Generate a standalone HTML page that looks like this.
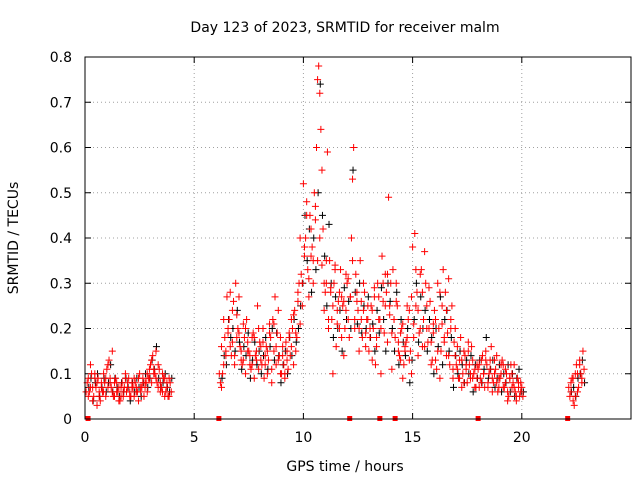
<!DOCTYPE html>
<html><head><meta charset="utf-8"><style>
body{margin:0;background:#fff}
svg{display:block;font-family:"DejaVu Sans","Liberation Sans",sans-serif}
</style></head><body>
<svg id="chart" width="640" height="480" viewBox="0 0 640 480">
<rect width="640" height="480" fill="#fff"/>
<text x="345" y="32" font-size="14" text-anchor="middle">Day 123 of 2023, SRMTID for receiver malm</text>
<text x="345" y="471" font-size="14" text-anchor="middle">GPS time / hours</text>
<text transform="translate(18,238) rotate(-90)" font-size="14" text-anchor="middle">SRMTID / TECUs</text>
<g id="grid"></g>
<g id="axes"></g>
<g id="black"></g>
<g id="red"></g>
<g id="gaps"></g>
<rect x="85" y="57" width="546" height="362" fill="none" stroke="#000"/>
</svg>
<script>
const xTicks=[0,5,10,15,20];
const yTicks=[0,0.1,0.2,0.3,0.4,0.5,0.6,0.7,0.8];
const yTickLabels=["0","0.1","0.2","0.3","0.4","0.5","0.6","0.7","0.8"];
const segStart=[0.1,6.2,9.9,22.2];
const segEnd=[3.9,9.8,20.0,22.8];
const gapTimes=[0.14,6.13,12.12,13.5,14.2,18.0,22.1];
const red1=[.08,.06,.10,.05,.07,.09,.04,.06,.08,.11,.13,.07,.05,.09,.06,.04,.08,.07,.06,.09,.05,.07,.08,.06,.10,.07,.05,.08,.09,.12,.14,.10,.08,.11,.07,.09,.06,.05,.08,
.08,.10,.18,.27,.22,.14,.26,.30,.20,.16,.12,.18,.22,.15,.11,.19,.14,.25,.17,.12,.09,.16,.13,.18,.22,.27,.19,.14,.10,.12,.17,.11,.14,.20,.24,.18,.30,
.32,.52,.40,.33,.45,.38,.50,.60,.78,.64,.42,
.28,.59,.35,.22,.30,.16,.26,.33,.25,.20,
.30,.18,.40,.60,.32,.24,.35,.18,.28,.22,
.15,.25,.20,.12,.30,.22,.36,.19,.28,.49,
.30,.33,.18,.25,.14,.20,.12,.17,.22,.15,
.38,.41,.28,.19,.33,.22,.30,.17,.26,.13,
.24,.11,.20,.15,.33,.28,.19,.12,.25,.17,
.12,.09,.18,.10,.14,.08,.12,.16,.10,.07,
.11,.09,.14,.07,.12,.10,.16,.08,.11,.06,
.09,.13,.07,.10,.05,.12,.08,.06,.09,.05,
.07,
.05,.09,.03,.12,.07,.10,.15];
const red2=[.05,.12,.07,.09,.03,.06,.08,.10,.05,.07,.09,.15,.08,.06,.04,.07,.05,.10,.08,.05,.07,.09,.06,.04,.07,.09,.08,.06,.11,.08,.10,.15,.12,.06,.10,.05,.08,.09,.06,
.07,.12,.14,.20,.16,.24,.12,.18,.27,.13,.21,.10,.15,.12,.18,.09,.13,.11,.16,.20,.14,.10,.21,.08,.15,.12,.24,.10,.16,.09,.13,.18,.22,.12,.15,.26,.21,
.25,.38,.48,.27,.36,.30,.44,.35,.72,.55,.30,
.35,.22,.28,.10,.34,.24,.20,.27,.14,.32,
.22,.27,.53,.20,.26,.15,.22,.30,.16,.25,
.20,.13,.27,.18,.22,.10,.26,.32,.17,.23,
.11,.22,.26,.15,.19,.09,.16,.25,.13,.10,
.18,.25,.14,.32,.16,.37,.20,.29,.12,.21,
.13,.30,.09,.25,.18,.14,.31,.22,.09,.20,
.16,.13,.07,.15,.11,.17,.09,.13,.07,.12,
.07,.13,.10,.15,.08,.13,.06,.10,.14,.09,
.12,.07,.11,.04,.09,.07,.12,.04,.07,.08,
.05,
.08,.04,.10,.06,.13,.08,.11];
const red3=[.06,.09,.07,.04,.10,.08,.05,.07,.06,.09,.12,.08,.06,.05,.08,.07,.05,.06,.09,.07,.06,.08,.05,.07,.09,.06,.08,.07,.10,.09,.13,.11,.09,.07,.08,.06,.09,.07,.05,
.10,.16,.22,.15,.19,.28,.17,.14,.23,.19,.15,.13,.20,.17,.14,.12,.18,.15,.20,.13,.17,.12,.15,.19,.11,.21,.16,.13,.18,.14,.10,.15,.19,.16,.23,.19,.28,
.40,.30,.36,.45,.31,.42,.35,.47,.75,.40,.34,
.24,.30,.20,.29,.25,.33,.21,.28,.18,.26,
.24,.31,.27,.35,.22,.28,.20,.26,.24,.19,
.22,.18,.24,.29,.16,.27,.20,.30,.25,.32,
.25,.19,.22,.30,.17,.13,.21,.15,.18,.24,
.27,.21,.33,.24,.20,.28,.16,.25,.20,.17,
.19,.22,.15,.28,.21,.17,.24,.14,.20,.11,
.14,.11,.09,.13,.08,.12,.15,.10,.09,.11,
.09,.12,.08,.10,.13,.07,.11,.09,.13,.08,
.07,.10,.12,.08,.06,.09,.10,.07,.05,.08,
.06,
.07,.06,.09,.05,.10,.12,.09];
const black=[.07,.09,.04,.08,.10,.05,.07,.09,.06,.08,.12,.06,.09,.07,.05,.08,.06,.09,.07,.04,.08,.06,.09,.07,.05,.08,.10,.07,.09,.13,.11,.16,.09,.07,.08,.10,.07,.06,.09,
.09,.14,.12,.22,.18,.20,.15,.24,.17,.11,.16,.14,.19,.09,.13,.17,.12,.15,.10,.14,.18,.11,.16,.20,.13,.19,.14,.08,.12,.15,.10,.18,.14,.22,.17,.20,.25,
.30,.45,.35,.42,.28,.40,.33,.50,.74,.45,.36,
.25,.43,.30,.18,.27,.20,.24,.15,.29,.22,
.26,.20,.55,.28,.21,.30,.19,.25,.20,.27,
.18,.21,.15,.24,.19,.29,.22,.15,.30,.26,
.20,.15,.28,.12,.22,.17,.14,.20,.08,.13,
.22,.30,.17,.27,.20,.24,.15,.22,.18,.10,
.20,.16,.27,.12,.22,.24,.15,.18,.07,.14,
.10,.15,.12,.08,.13,.10,.14,.06,.12,.09,
.13,.08,.11,.18,.09,.11,.13,.07,.09,.12,
.06,.10,.08,.12,.06,.10,.05,.09,.11,.06,
.06,
.06,.07,.05,.09,.10,.13,.08];

const NS='http://www.w3.org/2000/svg';
const X0=85,X1=631,Y0=419,Y1=57,XMAX=25,YMAX=0.8;
function sx(v){return X0+(X1-X0)*v/XMAX;}
function sy(v){return Y0-(Y0-Y1)*v/YMAX;}
function mk(tag,attrs,parent){const e=document.createElementNS(NS,tag);for(const k in attrs)e.setAttribute(k,attrs[k]);parent.appendChild(e);return e;}
const times=[];
for(let s=0;s<segStart.length;s++){const n=Math.round((segEnd[s]-segStart[s])/0.1);for(let i=0;i<=n;i++)times.push(segStart[s]+i*0.1);}
const grid=document.getElementById('grid'),axes=document.getElementById('axes');
xTicks.forEach(t=>{
  const x=sx(t);
  if(t>0){const g=mk('line',{x1:x,x2:x,y1:Y1,y2:Y0,stroke:'#a0a0a0','stroke-dasharray':'1,3'},grid);
  
  }
  const tk=mk('path',{d:`M${x},${Y0}v-6M${x},${Y1}v6`,stroke:'#000'},axes);
  
  
  const l=mk('text',{x:x,y:Y0+23,'font-size':14,'text-anchor':'middle'},axes);
  l.textContent=String(t);
  
  
});
yTicks.forEach((t,i)=>{
  const y=sy(t);
  if(t>0&&t<YMAX){const g=mk('line',{x1:X0,x2:X1,y1:y,y2:y,stroke:'#a0a0a0','stroke-dasharray':'1,3'},grid);
  
  }
  const tk=mk('path',{d:`M${X0},${y}h6M${X1},${y}h-6`,stroke:'#000'},axes);
  
  
  const l=mk('text',{x:X0-13,y:y+5,'font-size':14,'text-anchor':'end'},axes);
  l.textContent=yTickLabels[i];
  
  
});
function plus(g,t,v,col,off){
  const x=sx(t)+off,y=sy(v);
  const p=mk('path',{d:`M${x-3.5},${y}h7M${x},${y-3.5}v7`,stroke:col,'stroke-width':1},g);
  
  
}
const gb=document.getElementById('black'),gr=document.getElementById('red');
black.forEach((v,i)=>plus(gb,times[i],v,'#000',1.6));
red1.forEach((v,i)=>plus(gr,times[i],v,'#f00',0));
red2.forEach((v,i)=>plus(gr,times[i],v,'#f00',1.1));
red3.forEach((v,i)=>plus(gr,times[i],v,'#f00',-1.1));
const gg=document.getElementById('gaps');
gapTimes.forEach(t=>{
  const r=mk('rect',{x:sx(t)-2.5,y:Y0-3,width:5,height:5,fill:'#f00'},gg);
  
  
});
</script>
</body></html>
